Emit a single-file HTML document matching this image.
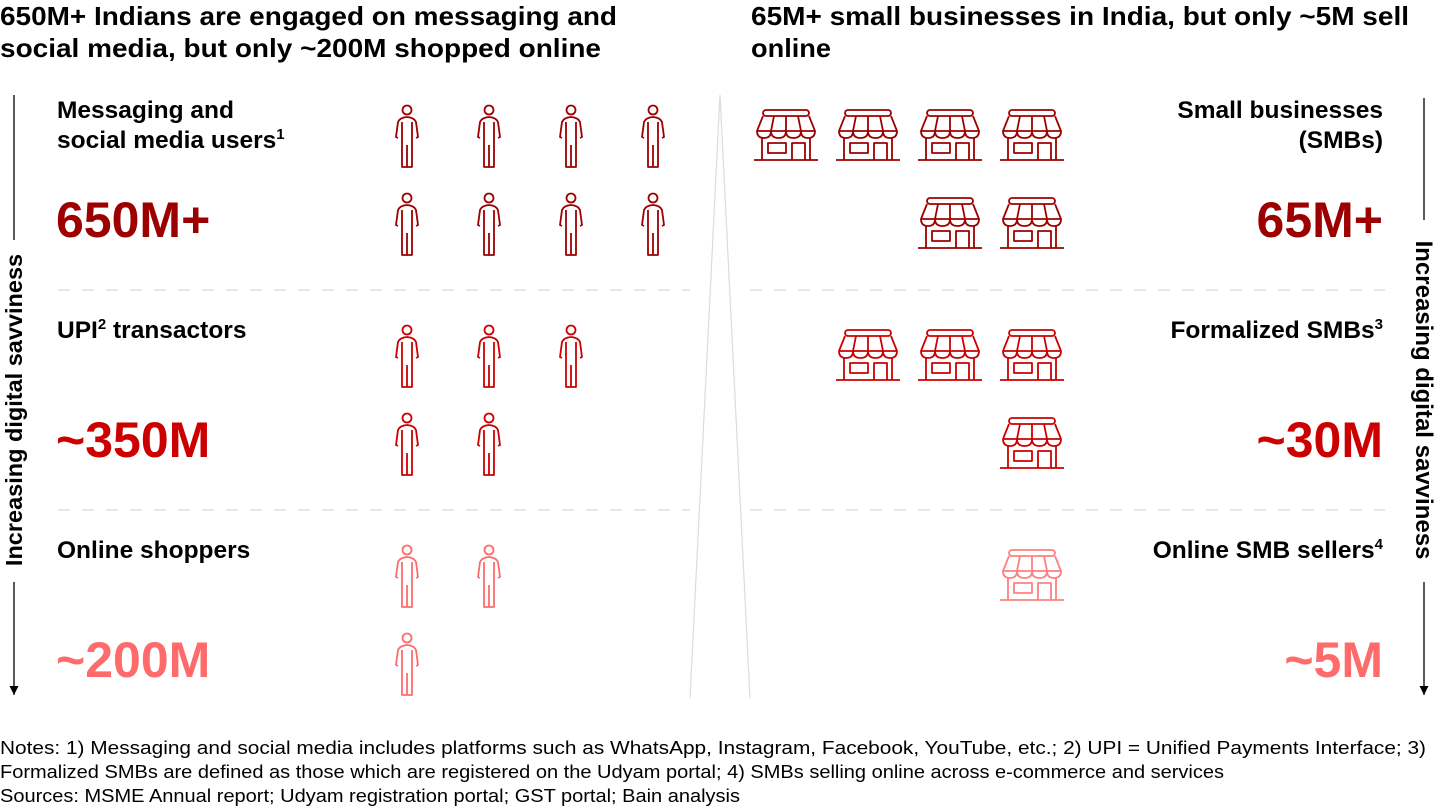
<!DOCTYPE html>
<html><head><meta charset="utf-8"><style>
html,body{margin:0;padding:0;background:#fff;}
svg{display:block;font-family:"Liberation Sans",Arial,sans-serif;}
</style></head><body>
<svg id="chart" width="1440" height="810" viewBox="0 0 1440 810">
<defs>
<marker id="arr" viewBox="0 0 10 10" refX="10" refY="5" markerWidth="9" markerHeight="9" markerUnits="userSpaceOnUse" orient="auto"><path d="M0,0 L10,5 L0,10 Z" fill="#000"/></marker>
</defs>
<g font-weight="bold" font-size="26" fill="#000">
<text x="0" y="25" textLength="617" lengthAdjust="spacingAndGlyphs">650M+ Indians are engaged on messaging and</text>
<text x="0" y="57" textLength="601" lengthAdjust="spacingAndGlyphs">social media, but only ~200M shopped online</text>
</g>
<g font-weight="bold" font-size="26" fill="#000">
<text x="751" y="25" textLength="658" lengthAdjust="spacingAndGlyphs">65M+ small businesses in India, but only ~5M sell</text>
<text x="751" y="57" textLength="80" lengthAdjust="spacingAndGlyphs">online</text>
</g>
<g stroke="#dcdcdc" stroke-width="1.2" fill="none">
<path d="M720,95 L690,698 M720,95 L750,698"/>
</g>
<g stroke="#e8e8e8" stroke-width="2" stroke-dasharray="12,12">
<line x1="58" y1="290" x2="690" y2="290"/><line x1="750" y1="290" x2="1385" y2="290"/>
<line x1="58" y1="510" x2="690" y2="510"/><line x1="750" y1="510" x2="1385" y2="510"/>
</g>
<g>
<line x1="14" y1="95" x2="14" y2="240" stroke="#000" stroke-width="1.3"/>
<line x1="14" y1="582" x2="14" y2="695" stroke="#000" stroke-width="1.3" marker-end="url(#arr)"/>
<text transform="translate(22,410) rotate(-90)" text-anchor="middle" font-size="23.5" font-weight="bold">Increasing digital savviness</text>
</g>
<g>
<line x1="1424" y1="98" x2="1424" y2="220" stroke="#000" stroke-width="1.3"/>
<line x1="1424" y1="582" x2="1424" y2="695" stroke="#000" stroke-width="1.3" marker-end="url(#arr)"/>
<text transform="translate(1416,400) rotate(90)" text-anchor="middle" font-size="24" font-weight="bold">Increasing digital savviness</text>
</g>
<g id="left-labels" font-weight="bold" fill="#000" font-size="24.5">
<text x="57" y="118">Messaging and</text>
<text x="57" y="148">social media users<tspan font-size="15" dy="-9">1</tspan></text>
<text x="57" y="338">UPI<tspan font-size="15" dy="-9">2</tspan><tspan dy="9"> transactors</tspan></text>
<text x="57" y="558">Online shoppers</text>
</g>
<g id="right-labels" font-weight="bold" fill="#000" font-size="24.5" text-anchor="end">
<text x="1383" y="118">Small businesses</text>
<text x="1383" y="148">(SMBs)</text>
<text x="1383" y="338">Formalized SMBs<tspan font-size="15" dy="-9">3</tspan></text>
<text x="1383" y="558">Online SMB sellers<tspan font-size="15" dy="-9">4</tspan></text>
</g>
<g id="people"></g>
<g id="stores"></g>
<g id="values" font-weight="bold" font-size="50"></g>
<g font-size="18" fill="#000">
<text x="0" y="754" textLength="1426" lengthAdjust="spacingAndGlyphs">Notes: 1) Messaging and social media includes platforms such as WhatsApp, Instagram, Facebook, YouTube, etc.; 2) UPI = Unified Payments Interface; 3)</text>
<text x="0" y="778" textLength="1224" lengthAdjust="spacingAndGlyphs">Formalized SMBs are defined as those which are registered on the Udyam portal; 4) SMBs selling online across e-commerce and services</text>
<text x="0" y="802" textLength="740" lengthAdjust="spacingAndGlyphs">Sources: MSME Annual report; Udyam registration portal; GST portal; Bain analysis</text>
</g>
</svg>
<script>
// icon counts per row (top line / bottom line of each tier)
const peopleTop = [4, 3, 2];
const peopleBottom = [4, 2, 1];
const storesTop = [4, 3, 1];
const storesBottom = [2, 1, 0];
const leftValues = ["650M+", "~350M", "~200M"];
const rightValues = ["65M+", "~30M", "~5M"];
const tierColors = ["#9c0000", "#cc0000", "#ff6b6b"];
const storeColors = ["#9c0000", "#cc0000", "#ff8080"];

const NS = "http://www.w3.org/2000/svg";
const tierY = t => 105 + t * 220;
const personX = i => 394 + i * 82;
const storeX = i => 1000 - i * 82; // right-aligned, index from right
function mk(tag, attrs, parent){ const e=document.createElementNS(NS,tag); for(const k in attrs) e.setAttribute(k,attrs[k]); parent.appendChild(e); return e; }

function person(x, y, color, parent){
  const g = mk("g",{transform:`translate(${x},${y})`,stroke:color,"stroke-width":"1.8",fill:"none","stroke-linejoin":"round"},parent);
  
  
  mk("circle",{cx:13,cy:5,r:4.5},g);
  mk("path",{d:"M4,33 L2,32 L4,17 Q6,12.5 13,12 Q20,12.5 22,17 L24,32 L22,33 M8,17 L8,62 L18,62 L18,17 M13,40 L13,62"},g);
}
function store(x, y, color, parent){
  const g = mk("g",{transform:`translate(${x},${y})`,stroke:color,"stroke-width":"1.8",fill:"none","stroke-linejoin":"round"},parent);
  
  
  mk("rect",{x:9,y:0,width:46,height:6,rx:3},g);
  mk("path",{d:"M9,6 L3,21 L61,21 L55,6 M20,6 L17,21 M32,6 L32,21 M44,6 L47,21 M3,21 Q3,28 10,28 Q17,28 17,21 Q17,28 24.5,28 Q32,28 32,21 Q32,28 39.5,28 Q47,28 47,21 Q47,28 54,28 Q61,28 61,21 M8,27 L8,50 M56,27 L56,50 M0,50 L64,50"},g);
  mk("rect",{x:14,y:33,width:18,height:10},g);
  mk("path",{d:"M38,50 L38,33 L51,33 L51,50"},g);
}
const pg = document.getElementById("people"), sg = document.getElementById("stores"), vg = document.getElementById("values");
for(let t=0;t<3;t++){
  for(let i=0;i<peopleTop[t];i++) person(personX(i), tierY(t), tierColors[t], pg);
  for(let i=0;i<peopleBottom[t];i++) person(personX(i), tierY(t)+88, tierColors[t], pg);
  for(let i=0;i<storesTop[t];i++) store(storeX(i), tierY(t)+5, storeColors[t], sg);
  for(let i=0;i<storesBottom[t];i++) store(storeX(i), tierY(t)+93, storeColors[t], sg);
  const lv = mk("text",{x:56,y:tierY(t)+132,fill:tierColors[t]},vg);
  lv.textContent = leftValues[t];
  
  
  const rv = mk("text",{x:1383,y:tierY(t)+132,fill:tierColors[t],"text-anchor":"end"},vg);
  rv.textContent = rightValues[t];
  
  
}
</script>
</body></html>
